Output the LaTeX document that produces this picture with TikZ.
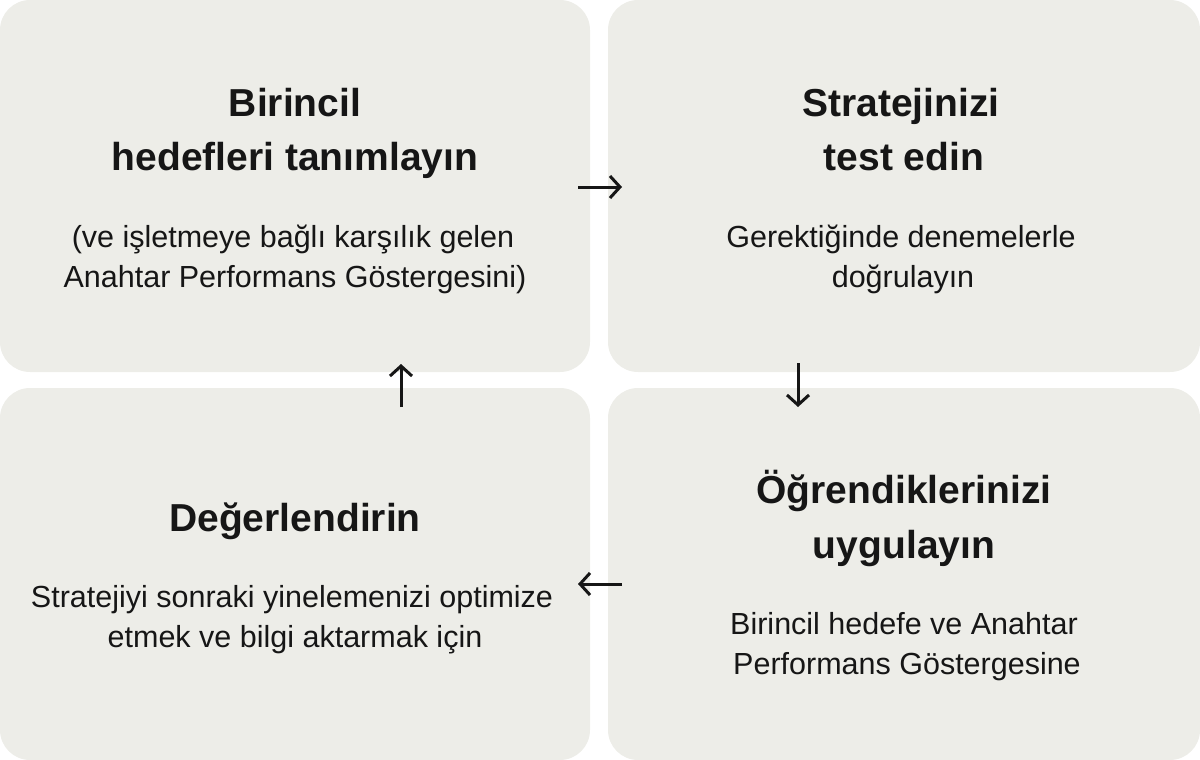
\documentclass[tikz,border=0pt]{standalone}
\usepackage{fontspec}
\setmainfont{Liberation Sans}
\usetikzlibrary{arrows.meta}
\definecolor{boxgray}{RGB}{237,237,232}
\definecolor{ink}{RGB}{22,22,22}
\begin{document}
\begin{tikzpicture}[x=1pt,y=-1pt,
  box/.style={fill=boxgray, rounded corners=30pt, inner sep=0pt, minimum width=590pt, minimum height=372pt},
  ttl/.style={anchor=base, inner sep=0pt, text=ink, font=\fontsize{39}{46}\selectfont\bfseries},
  bdy/.style={anchor=base, inner sep=0pt, text=ink, font=\fontsize{30.5}{38}\selectfont},
  arr/.style={draw=ink, line width=3pt, -{Straight Barb[length=10pt,width=22pt,line width=3pt]}}]
\useasboundingbox (0,0) rectangle (1200,760);
% boxes
\node[box] (tl) at (295,186) {};
\node[box, minimum width=592pt] (tr) at (904,186) {};
\node[box] (bl) at (295,574) {};
\node[box, minimum width=592pt] (br) at (904,574) {};
% top-left
\node[ttl] (tl1) at (295,116) {Birincil};
\node[ttl] (tl2) at (295,170) {hedefleri tanımlayın};
\node[bdy] (tl3) at (293,247) {(ve işletmeye bağlı karşılık gelen};
\node[bdy] (tl4) at (295,287) {Anahtar Performans Göstergesini)};
% top-right
\node[ttl] (tr1) at (901,116) {Stratejinizi};
\node[ttl] (tr2) at (904,170) {test edin};
\node[bdy] (tr3) at (901,247) {Gerektiğinde denemelerle};
\node[bdy] (tr4) at (903,287) {doğrulayın};
% bottom-left
\node[ttl] (bl1) at (295,531) {Değerlendirin};
\node[bdy] (bl2) at (292,607) {Stratejiyi sonraki yinelemenizi optimize};
\node[bdy] (bl3) at (295,647) {etmek ve bilgi aktarmak için};
% bottom-right
\node[ttl] (br1) at (904,503) {Öğrendiklerinizi};
\node[ttl] (br2) at (904,558) {uygulayın};
\node[bdy] (br3) at (904,634) {Birincil hedefe ve Anahtar};
\node[bdy] (br4) at (907,674) {Performans Göstergesine};
% arrows
\coordinate (a1s) at (578,187); \coordinate (a1e) at (622,187);
\coordinate (a2s) at (798,363); \coordinate (a2e) at (798,407);
\coordinate (a3s) at (622,584); \coordinate (a3e) at (578,584);
\coordinate (a4s) at (401,407); \coordinate (a4e) at (401,364);
\draw[arr] (a1s) -- (a1e);
\draw[arr] (a2s) -- (a2e);
\draw[arr] (a3s) -- (a3e);
\draw[arr] (a4s) -- (a4e);
\end{tikzpicture}
\end{document}
